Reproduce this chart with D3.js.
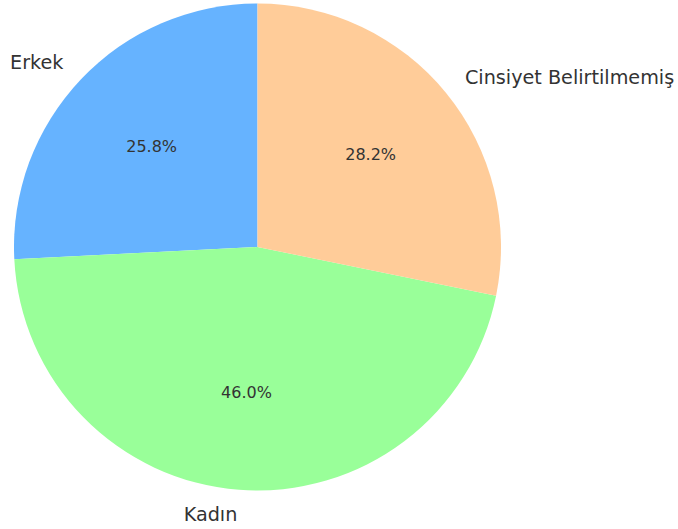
<!DOCTYPE html>
<html>
<head>
<meta charset="utf-8">
<script src="https://cdn.jsdelivr.net/npm/d3@7"></script>
<style>
  body { margin: 0; background: #fff; }
  text { font-family: "DejaVu Sans", sans-serif; fill: #333; }
</style>
</head>
<body>
<svg id="chart" width="678" height="529"></svg>
<script>
// Data
const labels = ["Erkek", "Kadın", "Cinsiyet Belirtilmemiş"];
const values = [25.8, 46.0, 28.2];
const colors = ["#66b3ff", "#99ff99", "#ffcc99"];

const svg = d3.select("#chart");
const cx = 257.5, cy = 247, r = 243.5;

// matplotlib style: start at top, go counterclockwise
const pie = d3.pie().sort(null).value(d => d.value)
  .startAngle(0).endAngle(-2 * Math.PI);

const data = labels.map((l, i) => ({ label: l, value: values[i], color: colors[i] }));
const arcs = pie(data);
const arc = d3.arc().innerRadius(0).outerRadius(r);

const g = svg.append("g").attr("transform", `translate(${cx},${cy})`);

g.selectAll("path")
  .data(arcs)
  .join("path")
  .attr("d", arc)
  .attr("fill", d => d.data.color);

// position on circle for a d3 angle (0 = top, clockwise)
function pos(a, k) {
  return [Math.sin(a) * r * k, -Math.cos(a) * r * k];
}

g.selectAll("text.pct")
  .data(arcs)
  .join("text")
  .attr("class", "pct")
  .attr("x", d => pos((d.startAngle + d.endAngle) / 2, 0.6)[0])
  .attr("y", d => pos((d.startAngle + d.endAngle) / 2, 0.6)[1])
  .attr("dy", "0.35em")
  .attr("text-anchor", "middle")
  .style("font-size", "16px")
  .text(d => d.data.value.toFixed(1) + "%");

g.selectAll("text.lbl")
  .data(arcs)
  .join("text")
  .attr("class", "lbl")
  .attr("x", d => pos((d.startAngle + d.endAngle) / 2, 1.1)[0])
  .attr("y", d => pos((d.startAngle + d.endAngle) / 2, 1.1)[1])
  .attr("dy", "0.35em")
  .attr("text-anchor", d => pos((d.startAngle + d.endAngle) / 2, 1)[0] > 0 ? "start" : "end")
  .style("font-size", "19.2px")
  .text(d => d.data.label);
</script>
</body>
</html>
